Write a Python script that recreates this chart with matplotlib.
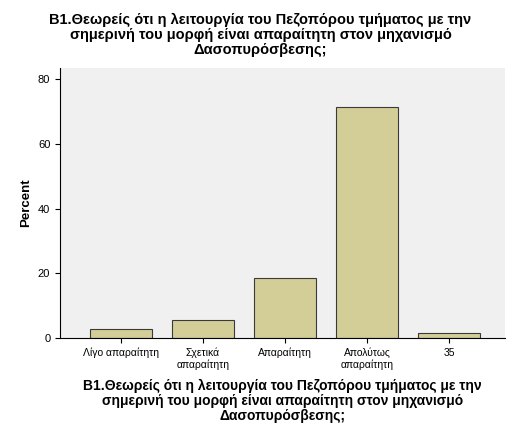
import matplotlib.pyplot as plt

categories = ['Λίγο απαραίτητη', 'Σχετικά\nαπαραίτητη', 'Απαραίτητη', 'Απολύτως\nαπαραίτητη', '35']
percent = [2.9, 5.7, 18.6, 71.4, 1.4]
title = ('Β1.Θεωρείς ότι η λειτουργία του Πεζοπόρου τμήματος με την\n'
         'σημερινή του μορφή είναι απαραίτητη στον μηχανισμό\n'
         'Δασοπυρόσβεσης;')

plt.rcParams['font.family'] = ['Liberation Sans', 'DejaVu Sans']

fig = plt.figure(figsize=(5.21, 4.37), dpi=100)
ax = fig.add_axes([60 / 521, 1 - 338 / 437, 445 / 521, 270 / 437])
ax.set_facecolor('#F0F0F0')

x = range(len(categories))
ax.bar(x, percent, width=0.76, color='#D3CE97', edgecolor='#3a3a3a', linewidth=0.8)

ax.set_xlim(-0.74, 4.68)
ax.set_ylim(0, 83.5)
ax.set_yticks([0, 20, 40, 60, 80])
ax.set_xticks(list(x))
ax.set_xticklabels(categories, fontsize=7.5)
ax.tick_params(axis='y', labelsize=8)
for s in ['top', 'right']:
    ax.spines[s].set_visible(False)

ax.set_ylabel('Percent', fontsize=9.5, fontweight='bold')
ax.set_xlabel(title, fontsize=10, fontweight='bold', linespacing=1.1, labelpad=6)
fig.text(0.5, 1 - 35 / 437, title, ha='center', va='center',
         fontsize=10.5, fontweight='bold', linespacing=1.1)

fig.savefig('out.png', dpi=100)
